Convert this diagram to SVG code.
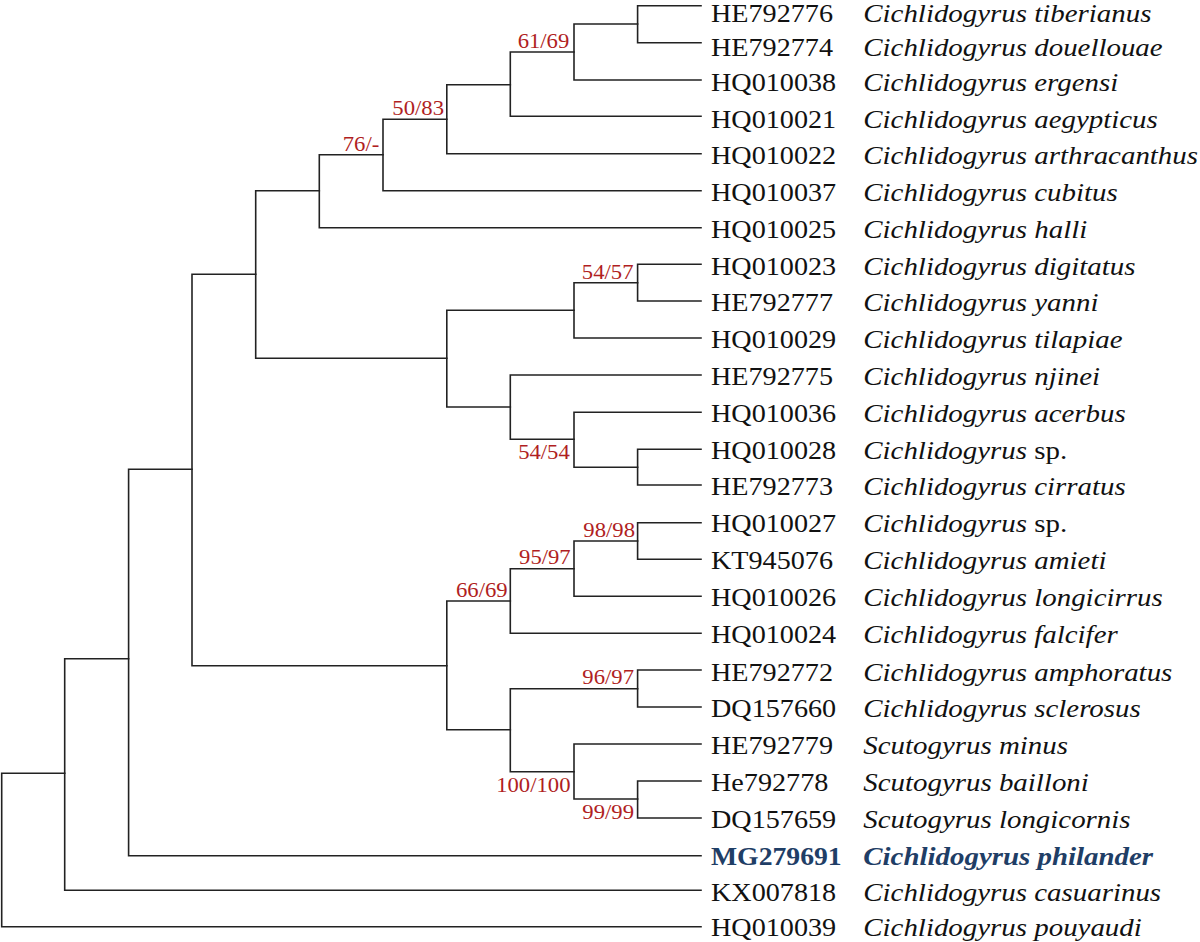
<svg xmlns="http://www.w3.org/2000/svg" width="1200" height="942" viewBox="0 0 1200 942">
<style>
  .br { fill: none; stroke: #222; stroke-width: 1.6; stroke-linejoin: miter; stroke-linecap: square; }
  text { font-family: "Liberation Serif", "Times New Roman", serif; font-size: 24.5px; fill: #111; }
  .sp { font-style: italic; }
  .up { font-style: normal; }
  .bs { fill: #B01E22; text-anchor: end; font-size: 21px; }
  .hl text { fill: #1F3E66; font-weight: bold; }
</style>
<rect width="1200" height="942" fill="#fff"/>
<g id="connectors">
  <path class="br" d="M64.7,773.3 H1.7 V926.7 H701"/>
  <path class="br" d="M128.6,658.7 H64.7 V890.3 H701"/>
  <path class="br" d="M192,469.3 H128.6 V855.7 H701"/>
  <path class="br" d="M255.7,274.3 H192 V665.7 H446.8"/>
  <path class="br" d="M319.3,190.7 H255.7 V358.3 H446.8"/>
  <path class="br" d="M383,154.7 H319.3 V227.7 H701"/>
  <path class="br" d="M446.8,119.3 H383 V190.7 H701"/>
  <path class="br" d="M510.3,84.7 H446.8 V153.7 H701"/>
  <path class="br" d="M574,52 H510.3 V116.3 H701"/>
  <path class="br" d="M637.6,24 H574 V80 H701"/>
  <path class="br" d="M701,5.7 H637.6 V42.7 H701"/>
  <path class="br" d="M574,310.3 H446.8 V407 H510.3"/>
  <path class="br" d="M637.6,282.7 H574 V338 H701"/>
  <path class="br" d="M701,264.3 H637.6 V301 H701"/>
  <path class="br" d="M701,375 H510.3 V439.3 H574"/>
  <path class="br" d="M701,412.3 H574 V467.3 H637.6"/>
  <path class="br" d="M701,449.3 H637.6 V485 H701"/>
  <path class="br" d="M510.3,601 H446.8 V729.7 H510.3"/>
  <path class="br" d="M574,568.7 H510.3 V633.3 H701"/>
  <path class="br" d="M637.6,541 H574 V596.3 H701"/>
  <path class="br" d="M701,522.7 H637.6 V559.3 H701"/>
  <path class="br" d="M637.6,688.7 H510.3 V771.7 H574"/>
  <path class="br" d="M701,670 H637.6 V707 H701"/>
  <path class="br" d="M701,744 H574 V799 H637.6"/>
  <path class="br" d="M701,781 H637.6 V818 H701"/>
</g>
<g id="support">
  <g id="bs-n9"><text class="bs" transform="translate(569.3,47.7) scale(1.08,1)">61/69</text></g>
  <g id="bs-n7"><text class="bs" transform="translate(444,115) scale(1.08,1)">50/83</text></g>
  <g id="bs-n6"><text class="bs" transform="translate(379.3,150.7) scale(1.08,1)">76/-</text></g>
  <g id="bs-n11b"><text class="bs" transform="translate(633.5,279.3) scale(1.08,1)">54/57</text></g>
  <g id="bs-n12b"><text class="bs" transform="translate(569.8,459.3) scale(1.08,1)">54/54</text></g>
  <g id="bs-n16"><text class="bs" transform="translate(635,537.3) scale(1.08,1)">98/98</text></g>
  <g id="bs-n15"><text class="bs" transform="translate(570.7,564) scale(1.08,1)">95/97</text></g>
  <g id="bs-n14"><text class="bs" transform="translate(507.6,596.7) scale(1.08,1)">66/69</text></g>
  <g id="bs-n18"><text class="bs" transform="translate(634,684) scale(1.08,1)">96/97</text></g>
  <g id="bs-n19"><text class="bs" transform="translate(570.5,791.7) scale(1.08,1)">100/100</text></g>
  <g id="bs-n20"><text class="bs" transform="translate(634,819) scale(1.08,1)">99/99</text></g>
</g>
<g id="leaves">
  <g id="leaf-HE792776" transform="translate(0,22)"><text transform="translate(711,0) scale(1.15,1)">HE792776</text><text class="sp" transform="translate(863.3,0) scale(1.18,1)">Cichlidogyrus tiberianus</text></g>
  <g id="leaf-HE792774" transform="translate(0,55.5)"><text transform="translate(711,0) scale(1.15,1)">HE792774</text><text class="sp" transform="translate(863.3,0) scale(1.18,1)">Cichlidogyrus douellouae</text></g>
  <g id="leaf-HQ010038" transform="translate(0,91)"><text transform="translate(711,0) scale(1.15,1)">HQ010038</text><text class="sp" transform="translate(863.3,0) scale(1.18,1)">Cichlidogyrus ergensi</text></g>
  <g id="leaf-HQ010021" transform="translate(0,127.5)"><text transform="translate(711,0) scale(1.15,1)">HQ010021</text><text class="sp" transform="translate(863.3,0) scale(1.18,1)">Cichlidogyrus aegypticus</text></g>
  <g id="leaf-HQ010022" transform="translate(0,164.3)"><text transform="translate(711,0) scale(1.15,1)">HQ010022</text><text class="sp" transform="translate(863.3,0) scale(1.18,1)">Cichlidogyrus arthracanthus</text></g>
  <g id="leaf-HQ010037" transform="translate(0,201.2)"><text transform="translate(711,0) scale(1.15,1)">HQ010037</text><text class="sp" transform="translate(863.3,0) scale(1.18,1)">Cichlidogyrus cubitus</text></g>
  <g id="leaf-HQ010025" transform="translate(0,238)"><text transform="translate(711,0) scale(1.15,1)">HQ010025</text><text class="sp" transform="translate(863.3,0) scale(1.18,1)">Cichlidogyrus halli</text></g>
  <g id="leaf-HQ010023" transform="translate(0,274.6)"><text transform="translate(711,0) scale(1.15,1)">HQ010023</text><text class="sp" transform="translate(863.3,0) scale(1.18,1)">Cichlidogyrus digitatus</text></g>
  <g id="leaf-HE792777" transform="translate(0,311.3)"><text transform="translate(711,0) scale(1.15,1)">HE792777</text><text class="sp" transform="translate(863.3,0) scale(1.18,1)">Cichlidogyrus yanni</text></g>
  <g id="leaf-HQ010029" transform="translate(0,348.2)"><text transform="translate(711,0) scale(1.15,1)">HQ010029</text><text class="sp" transform="translate(863.3,0) scale(1.18,1)">Cichlidogyrus tilapiae</text></g>
  <g id="leaf-HE792775" transform="translate(0,385)"><text transform="translate(711,0) scale(1.15,1)">HE792775</text><text class="sp" transform="translate(863.3,0) scale(1.18,1)">Cichlidogyrus njinei</text></g>
  <g id="leaf-HQ010036" transform="translate(0,421.8)"><text transform="translate(711,0) scale(1.15,1)">HQ010036</text><text class="sp" transform="translate(863.3,0) scale(1.18,1)">Cichlidogyrus acerbus</text></g>
  <g id="leaf-HQ010028" transform="translate(0,458.6)"><text transform="translate(711,0) scale(1.15,1)">HQ010028</text><text class="sp" transform="translate(863.3,0) scale(1.18,1)">Cichlidogyrus <tspan class="up">sp.</tspan></text></g>
  <g id="leaf-HE792773" transform="translate(0,495.3)"><text transform="translate(711,0) scale(1.15,1)">HE792773</text><text class="sp" transform="translate(863.3,0) scale(1.18,1)">Cichlidogyrus cirratus</text></g>
  <g id="leaf-HQ010027" transform="translate(0,532.3)"><text transform="translate(711,0) scale(1.15,1)">HQ010027</text><text class="sp" transform="translate(863.3,0) scale(1.18,1)">Cichlidogyrus <tspan class="up">sp.</tspan></text></g>
  <g id="leaf-KT945076" transform="translate(0,569.3)"><text transform="translate(711,0) scale(1.15,1)">KT945076</text><text class="sp" transform="translate(863.3,0) scale(1.18,1)">Cichlidogyrus amieti</text></g>
  <g id="leaf-HQ010026" transform="translate(0,606.3)"><text transform="translate(711,0) scale(1.15,1)">HQ010026</text><text class="sp" transform="translate(863.3,0) scale(1.18,1)">Cichlidogyrus longicirrus</text></g>
  <g id="leaf-HQ010024" transform="translate(0,643.3)"><text transform="translate(711,0) scale(1.15,1)">HQ010024</text><text class="sp" transform="translate(863.3,0) scale(1.18,1)">Cichlidogyrus falcifer</text></g>
  <g id="leaf-HE792772" transform="translate(0,680.5)"><text transform="translate(711,0) scale(1.15,1)">HE792772</text><text class="sp" transform="translate(863.3,0) scale(1.18,1)">Cichlidogyrus amphoratus</text></g>
  <g id="leaf-DQ157660" transform="translate(0,717.3)"><text transform="translate(711,0) scale(1.15,1)">DQ157660</text><text class="sp" transform="translate(863.3,0) scale(1.18,1)">Cichlidogyrus sclerosus</text></g>
  <g id="leaf-HE792779" transform="translate(0,754)"><text transform="translate(711,0) scale(1.15,1)">HE792779</text><text class="sp" transform="translate(863.3,0) scale(1.18,1)">Scutogyrus minus</text></g>
  <g id="leaf-He792778" transform="translate(0,790.8)"><text transform="translate(711,0) scale(1.15,1)">He792778</text><text class="sp" transform="translate(863.3,0) scale(1.18,1)">Scutogyrus bailloni</text></g>
  <g id="leaf-DQ157659" transform="translate(0,827.6)"><text transform="translate(711,0) scale(1.15,1)">DQ157659</text><text class="sp" transform="translate(863.3,0) scale(1.18,1)">Scutogyrus longicornis</text></g>
  <g id="leaf-MG279691" class="hl" transform="translate(0,864.7)"><text transform="translate(711,0) scale(1.13,1)">MG279691</text><text class="sp" transform="translate(863.3,0) scale(1.18,1)">Cichlidogyrus philander</text></g>
  <g id="leaf-KX007818" transform="translate(0,900.6)"><text transform="translate(711,0) scale(1.15,1)">KX007818</text><text class="sp" transform="translate(863.3,0) scale(1.18,1)">Cichlidogyrus casuarinus</text></g>
  <g id="leaf-HQ010039" transform="translate(0,936)"><text transform="translate(711,0) scale(1.15,1)">HQ010039</text><text class="sp" transform="translate(863.3,0) scale(1.18,1)">Cichlidogyrus pouyaudi</text></g>
</g>
</svg>
